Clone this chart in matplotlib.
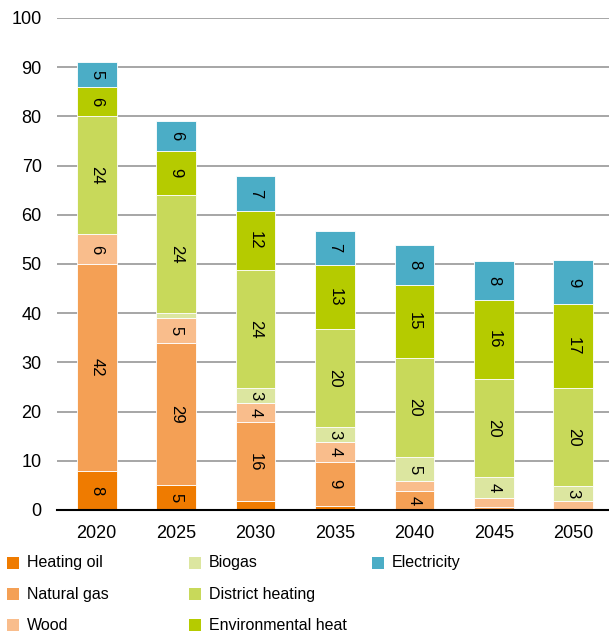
import matplotlib
matplotlib.use("Agg")
import matplotlib.pyplot as plt
from matplotlib.patches import Rectangle
import numpy as np

plt.rcParams['font.family'] = ['Liberation Sans', 'DejaVu Sans']

years = ['2020', '2025', '2030', '2035', '2040', '2045', '2050']
heating_oil = [8, 5, 1.8, 0.8, 0, 0, 0]
natural_gas = [42, 29, 16, 9, 3.8, 0.6, 0]
wood = [6, 5, 4, 4, 2, 1.8, 1.8]
biogas = [0, 1, 3, 3, 5, 4.3, 3]
district_heating = [24, 24, 24, 20, 20, 20, 20]
environmental_heat = [6, 9, 12, 13, 15, 16, 17]
electricity = [5, 6, 7, 7, 8, 8, 9]

series_names = ['Heating oil', 'Natural gas', 'Wood', 'Biogas',
                'District heating', 'Environmental heat', 'Electricity']
series_values = [heating_oil, natural_gas, wood, biogas,
                 district_heating, environmental_heat, electricity]
colors = ['#EF7B00', '#F4A055', '#F9BD8C', '#DCE6A0',
          '#C8D95A', '#B5CB00', '#4BADC6']

W, H = 609, 637
fig = plt.figure(figsize=(W / 100, H / 100), dpi=100)
ax = fig.add_axes([57 / W, (H - 510) / H, 552 / W, 492 / H])

x = np.arange(len(years))
bottom = np.zeros(len(years))
for name, vals, col in zip(series_names, series_values, colors):
    vals = np.array(vals, dtype=float)
    ax.bar(x, vals, width=0.5, bottom=bottom, color=col,
           edgecolor='white', linewidth=0.6, label=name, zorder=3)
    for xi, b, v in zip(x, bottom, vals):
        if v >= 2.5:
            ax.text(xi, b + v / 2, f"{int(round(v))}", rotation=270,
                    ha='center', va='center', fontsize=12, color='black',
                    zorder=4, rotation_mode='anchor')
    bottom += vals

ax.set_xlim(-0.5, 6.45)
ax.set_ylim(0, 100)
ax.set_yticks(np.arange(0, 101, 10))
ax.set_xticks(x)
ax.set_xticklabels(years)
ax.tick_params(axis='both', length=0, labelsize=13)
ax.tick_params(axis='y', pad=11)
ax.tick_params(axis='x', pad=11)
ax.yaxis.grid(True, color='#A6A6A6', linewidth=1.4, zorder=0)
ax.set_axisbelow(True)
for s in ['top', 'right', 'left']:
    ax.spines[s].set_visible(False)
ax.spines['bottom'].set_color('black')
ax.spines['bottom'].set_linewidth(1.5)
ax.spines['bottom'].set_zorder(5)

# Legend (3 columns, filled column-wise)
col_marker_x = [7, 189, 372]
col_text_x = [27, 209, 392]
row_y = [563, 594, 625]
for i, (name, col) in enumerate(zip(series_names, colors)):
    c, r = divmod(i, 3)
    mx, my = col_marker_x[c], row_y[r]
    fig.add_artist(Rectangle((mx / W, (H - my - 6) / H), 12 / W, 12 / H,
                             transform=fig.transFigure, facecolor=col,
                             edgecolor='none'))
    fig.text(col_text_x[c] / W, (H - my) / H, name, fontsize=11.5,
             ha='left', va='center')

fig.savefig('out.png', dpi=100)
